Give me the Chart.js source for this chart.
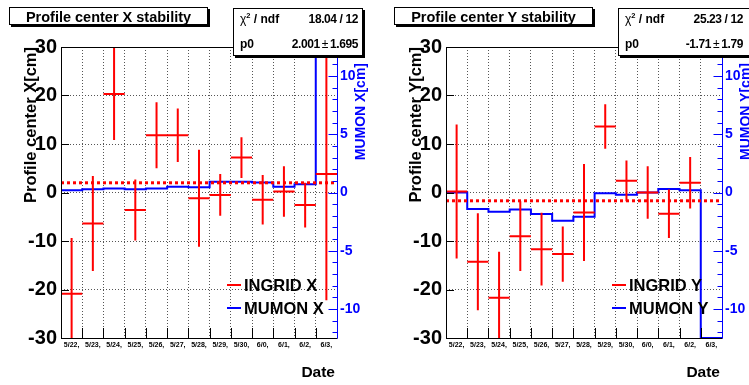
<!DOCTYPE html>
<html>
<head>
<meta charset="utf-8">
<script src="https://cdn.jsdelivr.net/npm/chart.js@4.4.1/dist/chart.umd.min.js"></script>
<style>
html, body { margin:0; padding:0; width:749px; height:385px; overflow:hidden; background:#fff; }
body { position:relative; font-family:'Liberation Sans', Arial, sans-serif; }
.panel { position:absolute; top:0; width:385px; height:385px; }
.panel canvas { position:absolute; left:0; top:0; }
.tbox { position:absolute; left:9px; top:7px; width:197px; height:16px; border:1px solid #000; box-shadow:2px 2px 0 #000;
        background:#fff; font-weight:bold; font-size:14.5px; text-align:center; line-height:18px; white-space:nowrap; }
.sbox { position:absolute; left:233px; top:8px; height:46px; border:1px solid #000; box-shadow:2px 2px 0 #000; background:#fff; }
.srow { position:absolute; left:0; width:124px; height:18px; line-height:18px; font-weight:bold; font-size:12px; white-space:nowrap; }
.srow .lab { position:absolute; left:6px; }
.srow .val { position:absolute; right:0; letter-spacing:-0.4px; }
.chi, .pm { font-weight:normal; }
.srow sup { font-size:7.5px; vertical-align:5px; line-height:0; }
.ytitle { position:absolute; left:19.5px; top:297px; width:250px; line-height:20px; font-weight:bold; font-size:16.5px;
          text-align:right; transform-origin:0 0; transform:rotate(-90deg); white-space:nowrap; }
.y2title { position:absolute; left:352px; top:313px; width:250px; line-height:16px; font-weight:bold; font-size:14px; color:#00f;
           text-align:right; transform-origin:0 0; transform:rotate(-90deg); white-space:nowrap; }
.xtitle { position:absolute; left:235px; top:362px; width:100px; line-height:20px; font-weight:bold; font-size:15.5px; text-align:right; }
.legline { position:absolute; left:227px; width:14px; height:2px; }
.legtxt { position:absolute; left:244px; line-height:22px; font-weight:bold; font-size:16.5px; white-space:nowrap; }
</style>
</head>
<body>
<script>
// bins along the date axis
const dates = ['5/22,', '5/23,', '5/24,', '5/25,', '5/26,', '5/27,', '5/28,', '5/29,', '5/30,', '6/0,', '6/1,', '6/2,', '6/3,'];
const yTicks = [-30, -20, -10, 0, 10, 20, 30];
const y2Ticks = [-10, -5, 0, 5, 10];

// X panel
const ingridX    = [-20.9, -6.4, 20.3, -3.6, 11.8, 11.8, -1.2, -0.5, 7.2, -1.5, 0.2, -2.6, 3.8];
const ingridXErr = [11.5, 9.8, 9.5, 6.3, 6.8, 5.5, 10.0, 4.3, 4.2, 5.1, 5.2, 4.6, 26.0];
const mumonX     = [0.2, 0.27, 0.35, 0.27, 0.35, 0.5, 0.45, 0.93, 0.93, 0.85, 0.5, 0.7, 12.5];
const fitXChi2 = '18.04', fitXNdf = '12', fitXP0 = '2.001', fitXP0Err = '1.695';

// Y panel
const ingridY    = [0.2, -14.3, -21.7, -9.0, -11.7, -12.7, -4.1, 13.6, 2.4, 0.0, -4.4, 2.0, null];
const ingridYErr = [13.8, 10.0, 9.5, 7.2, 7.5, 5.7, 10.0, 4.6, 4.2, 5.4, 5.0, 5.3, null];
const mumonY     = [0.0, -1.42, -1.65, -1.45, -1.85, -2.43, -2.08, -0.07, -0.2, 0.0, 0.3, 0.2, -12.5];
const fitYChi2 = '25.23', fitYNdf = '12', fitYP0 = '-1.71', fitYP0Err = '1.79';

const RED = '#ff0000', BLUE = '#0000ff';
const FONT = "'Liberation Sans', Arial, sans-serif";

// error crosses, frame and inward ticks (ROOT style)
const rootPlugin = {
  id: 'rootStyle',
  afterDatasetsDraw(chart) {
    const { ctx, chartArea: a, scales: { x, y } } = chart;
    const ds = chart.data.datasets[0];
    ctx.save();
    ctx.beginPath();
    ctx.rect(a.left, a.top, a.right - a.left, a.bottom - a.top);
    ctx.clip();
    ctx.strokeStyle = RED;
    ctx.lineWidth = 2;
    ctx.beginPath();
    ds.data.forEach((p, i) => {
      if (p.y === null) return;
      const e = ds.errors[i];
      const px = x.getPixelForValue(p.x);
      const py = y.getPixelForValue(p.y);
      ctx.moveTo(x.getPixelForValue(i), py);
      ctx.lineTo(x.getPixelForValue(i + 1), py);
      ctx.moveTo(px, y.getPixelForValue(p.y + e));
      ctx.lineTo(px, y.getPixelForValue(p.y - e));
    });
    ctx.stroke();
    ctx.restore();
  },
  afterDraw(chart) {
    const { ctx, chartArea: a, scales: { x, y, y2 } } = chart;
    ctx.save();
    ctx.lineWidth = 1;
    ctx.strokeStyle = '#000';
    ctx.beginPath();
    for (let i = 1; i < dates.length; i++) {
      const px = Math.round(x.getPixelForValue(i)) + 0.5;
      ctx.moveTo(px, a.bottom);
      ctx.lineTo(px, a.bottom - 10);
    }
    yTicks.forEach(v => {
      const py = Math.round(y.getPixelForValue(v)) + 0.5;
      ctx.moveTo(a.left, py);
      ctx.lineTo(a.left + 8, py);
    });
    const l = Math.round(a.left) + 0.5, r = Math.round(a.right) + 0.5;
    const t = Math.round(a.top) + 0.5, b = Math.round(a.bottom) + 0.5;
    ctx.moveTo(r, t); ctx.lineTo(l, t); ctx.lineTo(l, b); ctx.lineTo(r, b);
    ctx.stroke();

    // right MUMON axis
    ctx.strokeStyle = BLUE;
    ctx.beginPath();
    ctx.moveTo(r, t); ctx.lineTo(r, b);
    for (let v = -12; v <= 12; v++) {
      const py = Math.round(y2.getPixelForValue(v)) + 0.5;
      ctx.moveTo(r, py);
      ctx.lineTo(r - (v % 5 === 0 ? 9 : 5), py);
    }
    ctx.stroke();
    ctx.restore();
  }
};

function buildPanel(left, axis, ingrid, ingridErr, mumon, chi2, ndf, p0, p0Err, statsWidth) {
  const panel = document.createElement('div');
  panel.className = 'panel';
  panel.style.left = left + 'px';
  panel.innerHTML =
    '<canvas width="385" height="385"></canvas>' +
    '<div class="tbox">Profile center ' + axis + ' stability</div>' +
    '<div class="sbox" style="width:' + statsWidth + 'px">' +
      '<div class="srow" style="top:1px"><span class="lab"><span class="chi">χ</span><sup>2</sup> / ndf</span>' +
      '<span class="val">' + chi2 + ' / ' + ndf + '</span></div>' +
      '<div class="srow" style="top:26px"><span class="lab">p0</span>' +
      '<span class="val">' + p0 + '<span class="pm">&thinsp;±&thinsp;</span>' + p0Err + '</span></div>' +
    '</div>' +
    '<div class="ytitle">Profile center ' + axis + '[cm]</div>' +
    '<div class="y2title">MUMON ' + axis + '[cm]</div>' +
    '<div class="xtitle">Date</div>' +
    '<div class="legline" style="top:284px;background:' + RED + '"></div>' +
    '<div class="legtxt" style="top:274px">INGRID ' + axis + '</div>' +
    '<div class="legline" style="top:307px;background:' + BLUE + '"></div>' +
    '<div class="legtxt" style="top:297px">MUMON ' + axis + '</div>';
  document.body.appendChild(panel);

  // histogram outline: one point per bin edge, value held until the next edge
  const histPts = mumon.map((v, i) => ({ x: i, y: v }));
  histPts.push({ x: mumon.length, y: mumon[mumon.length - 1] });
  const fitVal = parseFloat(p0);

  new Chart(panel.querySelector('canvas'), {
    type: 'line',
    data: {
      datasets: [
        {
          label: 'INGRID ' + axis,
          data: ingrid.map((v, i) => ({ x: i + 0.5, y: v })),
          errors: ingridErr,
          showLine: false,
          pointRadius: 0,
          yAxisID: 'y'
        },
        {
          label: 'fit',
          data: [{ x: 0, y: fitVal }, { x: dates.length, y: fitVal }],
          borderColor: RED,
          borderWidth: 3,
          borderDash: [3, 3],
          pointRadius: 0,
          yAxisID: 'y'
        },
        {
          label: 'MUMON ' + axis,
          data: histPts,
          stepped: 'before',
          borderColor: BLUE,
          borderWidth: 2,
          pointRadius: 0,
          yAxisID: 'y2'
        }
      ]
    },
    options: {
      responsive: false,
      animation: false,
      layout: { padding: { top: 47, left: 0, right: 0, bottom: 0 } },
      plugins: { legend: { display: false }, tooltip: { enabled: false } },
      scales: {
        x: {
          type: 'linear', min: 0, max: dates.length,
          afterBuildTicks: s => { s.ticks = dates.map((d, i) => ({ value: i })).concat([{ value: dates.length }]); },
          afterFit: s => { s.height = 47; },
          ticks: {
            autoSkip: false, maxRotation: 0, minRotation: 0, padding: 3, labelOffset: 10.6,
            color: '#000', font: { family: FONT, size: 7, weight: 'bold' },
            callback: v => dates[v] !== undefined ? dates[v] : ''
          },
          grid: {
            drawTicks: false, lineWidth: 1,
            color: c => (c.tick.value === 0 || c.tick.value === dates.length) ? 'rgba(0,0,0,0)' : '#555'
          },
          border: { display: false, dash: [1, 2] }
        },
        y: {
          position: 'left', min: -30, max: 30,
          afterBuildTicks: s => { s.ticks = yTicks.map(v => ({ value: v })); },
          afterFit: s => { s.width = 61; },
          ticks: { padding: 4, color: '#000', font: { family: FONT, size: 20, weight: 'bold' } },
          grid: {
            drawTicks: false, lineWidth: 1,
            color: c => Math.abs(c.tick.value) === 30 ? 'rgba(0,0,0,0)' : '#555'
          },
          border: { display: false, dash: [1, 2] }
        },
        y2: {
          position: 'right', min: -12.5, max: 12.5,
          afterBuildTicks: s => { s.ticks = y2Ticks.map(v => ({ value: v })); },
          afterFit: s => { s.width = 48; },
          ticks: { padding: 3, color: BLUE, font: { family: FONT, size: 14, weight: 'bold' } },
          grid: { display: false, drawTicks: false },
          border: { display: false }
        }
      }
    },
    plugins: [rootPlugin]
  });
}

buildPanel(0, 'X', ingridX, ingridXErr, mumonX, fitXChi2, fitXNdf, fitXP0, fitXP0Err, 128);
buildPanel(385, 'Y', ingridY, ingridYErr, mumonY, fitYChi2, fitYNdf, fitYP0, fitYP0Err, 140);
</script>
</body>
</html>
